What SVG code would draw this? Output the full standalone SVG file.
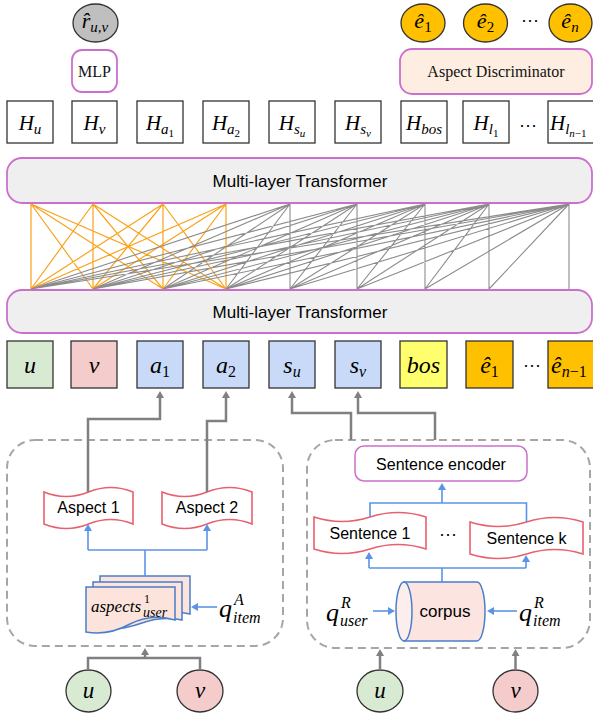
<svg xmlns="http://www.w3.org/2000/svg" width="593" height="715" viewBox="0 0 593 715">
<style>
  .box { fill: #ffffff; stroke: #333333; stroke-width: 1.3; }
  .pink { stroke: #CC6FCC; stroke-width: 1.8; }
  .m { font-family: "Liberation Serif", serif; font-style: italic; fill: #000; }
  .up { font-style: normal; }
  .serif { font-family: "Liberation Serif", serif; fill: #111; }
  .sans { font-family: "Liberation Sans", Arial, sans-serif; fill: #000; }
  .gray { fill: none; stroke: #808080; stroke-width: 2.5; }
  .blue { fill: none; stroke: #5B93E6; stroke-width: 1.6; }
  .tape { fill: #ffffff; stroke: #E8606E; stroke-width: 1.6; }
  .doc { fill: #FCE4DC; stroke: #4A7EC9; stroke-width: 1.5; }
  .dash { fill: none; stroke: #A6A6A6; stroke-width: 2; stroke-dasharray: 8 5; }
  .dots { font-family: "Liberation Sans", Arial, sans-serif; font-size: 18px; fill: #000; }
</style>
<defs>
  <marker id="ahGray" markerUnits="userSpaceOnUse" markerWidth="9" markerHeight="9" refX="1" refY="4" orient="auto">
    <path d="M0,0 L7,4 L0,8 z" fill="#808080"/>
  </marker>
  <marker id="ahBlue" markerUnits="userSpaceOnUse" markerWidth="9" markerHeight="9" refX="1" refY="4" orient="auto">
    <path d="M0,0 L7,4 L0,8 z" fill="#5B93E6"/>
  </marker>
</defs>

<!-- output heads -->
<g id="rating">
  <ellipse cx="95.5" cy="23" rx="22.5" ry="19" fill="#BFBFBF" stroke="#333" stroke-width="1.3"/>
  <text class="m" x="95" y="28" font-size="22" text-anchor="middle">r&#770;<tspan font-size="15" dy="4">u,v</tspan></text>
</g>
<g id="mlp">
  <rect x="72" y="50" width="45" height="42" rx="10" fill="#fff" class="pink"/>
  <text class="serif" x="94.5" y="77" font-size="16" text-anchor="middle">MLP</text>
</g>
<g id="e1-out">
  <ellipse cx="423" cy="23" rx="22" ry="19" fill="#FFC000" stroke="#333" stroke-width="1.3"/>
  <text class="m" x="423" y="28" font-size="22" text-anchor="middle">ê<tspan class="up" font-size="15" dy="4">1</tspan></text>
</g>
<g id="e2-out">
  <ellipse cx="485.5" cy="23" rx="22" ry="19" fill="#FFC000" stroke="#333" stroke-width="1.3"/>
  <text class="m" x="485.5" y="28" font-size="22" text-anchor="middle">ê<tspan class="up" font-size="15" dy="4">2</tspan></text>
</g>
<text class="dots" x="530" y="26" text-anchor="middle">···</text>
<g id="en-out">
  <ellipse cx="570.5" cy="23" rx="21.5" ry="19" fill="#FFC000" stroke="#333" stroke-width="1.3"/>
  <text class="m" x="570" y="28" font-size="22" text-anchor="middle">ê<tspan font-size="15" dy="4">n</tspan></text>
</g>
<g id="discriminator">
  <rect x="400" y="49" width="192" height="45" rx="12" fill="#FDEEE1" class="pink"/>
  <text class="serif" x="496" y="77" font-size="16" text-anchor="middle">Aspect Discriminator</text>
</g>

<!-- hidden states -->
<g id="hidden">
  <g id="H-u"><rect class="box" x="7" y="101" width="46" height="42"/>
    <text class="m" x="30" y="130" font-size="21" text-anchor="middle">H<tspan font-size="15" dy="4">u</tspan></text></g>
  <g id="H-v"><rect class="box" x="72" y="101" width="45" height="42"/>
    <text class="m" x="94.5" y="130" font-size="21" text-anchor="middle">H<tspan font-size="15" dy="4">v</tspan></text></g>
  <g id="H-a1"><rect class="box" x="137" y="101" width="46" height="42"/>
    <text class="m" x="160" y="130" font-size="21" text-anchor="middle">H<tspan font-size="15" dy="4">a</tspan><tspan class="up" font-size="11" dy="3">1</tspan></text></g>
  <g id="H-a2"><rect class="box" x="203" y="101" width="46" height="42"/>
    <text class="m" x="226" y="130" font-size="21" text-anchor="middle">H<tspan font-size="15" dy="4">a</tspan><tspan class="up" font-size="11" dy="3">2</tspan></text></g>
  <g id="H-su"><rect class="box" x="269" y="101" width="46" height="42"/>
    <text class="m" x="292" y="130" font-size="21" text-anchor="middle">H<tspan font-size="15" dy="4">s</tspan><tspan font-size="11" dy="3">u</tspan></text></g>
  <g id="H-sv"><rect class="box" x="335" y="101" width="46" height="42"/>
    <text class="m" x="358" y="130" font-size="21" text-anchor="middle">H<tspan font-size="15" dy="4">s</tspan><tspan font-size="11" dy="3">v</tspan></text></g>
  <g id="H-bos"><rect class="box" x="401" y="101" width="46" height="42"/>
    <text class="m" x="424" y="130" font-size="21" text-anchor="middle">H<tspan font-size="15" dy="4">bos</tspan></text></g>
  <g id="H-l1"><rect class="box" x="463" y="101" width="46" height="42"/>
    <text class="m" x="486" y="130" font-size="21" text-anchor="middle">H<tspan font-size="15" dy="4">l</tspan><tspan class="up" font-size="11" dy="3">1</tspan></text></g>
  <text class="dots" x="528" y="131" text-anchor="middle">···</text>
  <g id="H-ln"><rect class="box" x="548" y="101" width="47" height="42"/>
    <text class="m" x="550" y="130" font-size="21">H<tspan font-size="15" dy="4">l</tspan><tspan font-size="11" dy="3">n</tspan><tspan class="up" font-size="11">−1</tspan></text></g>
</g>

<!-- transformers -->
<g id="transformer-top">
  <rect x="7" y="158" width="585" height="45" rx="15" fill="#EFEFEF" class="pink"/>
  <text class="sans" x="300" y="187" font-size="17" text-anchor="middle">Multi-layer Transformer</text>
</g>
<g id="transformer-bottom">
  <rect x="7" y="290" width="585" height="43" rx="15" fill="#EFEFEF" class="pink"/>
  <text class="sans" x="300" y="318" font-size="17" text-anchor="middle">Multi-layer Transformer</text>
</g>

<!-- input tokens -->
<g id="tokens">
  <g id="tok-u"><rect x="7" y="341" width="46" height="47" fill="#D9EAD3" stroke="#333" stroke-width="1.3"/>
    <text class="m" x="30" y="373" font-size="24" text-anchor="middle">u</text></g>
  <g id="tok-v"><rect x="71" y="341" width="46" height="47" fill="#F4CCCC" stroke="#333" stroke-width="1.3"/>
    <text class="m" x="94" y="373" font-size="24" text-anchor="middle">v</text></g>
  <g id="tok-a1"><rect x="137" y="341" width="46" height="47" fill="#C9DAF8" stroke="#333" stroke-width="1.3"/>
    <text class="m" x="160" y="373" font-size="24" text-anchor="middle">a<tspan class="up" font-size="16" dy="4">1</tspan></text></g>
  <g id="tok-a2"><rect x="203" y="341" width="46" height="47" fill="#C9DAF8" stroke="#333" stroke-width="1.3"/>
    <text class="m" x="226" y="373" font-size="24" text-anchor="middle">a<tspan class="up" font-size="16" dy="4">2</tspan></text></g>
  <g id="tok-su"><rect x="269" y="341" width="46" height="47" fill="#C9DAF8" stroke="#333" stroke-width="1.3"/>
    <text class="m" x="292" y="373" font-size="24" text-anchor="middle">s<tspan font-size="16" dy="4">u</tspan></text></g>
  <g id="tok-sv"><rect x="335" y="341" width="46" height="47" fill="#C9DAF8" stroke="#333" stroke-width="1.3"/>
    <text class="m" x="358" y="373" font-size="24" text-anchor="middle">s<tspan font-size="16" dy="4">v</tspan></text></g>
  <g id="tok-bos"><rect x="400" y="341" width="47" height="47" fill="#FFFF6E" stroke="#333" stroke-width="1.3"/>
    <text class="m" x="423.5" y="373" font-size="24" text-anchor="middle">bos</text></g>
  <g id="tok-e1"><rect x="466" y="341" width="47" height="47" fill="#FFC000" stroke="#333" stroke-width="1.3"/>
    <text class="m" x="489.5" y="373" font-size="24" text-anchor="middle">ê<tspan class="up" font-size="16" dy="4">1</tspan></text></g>
  <text class="dots" x="532" y="371" text-anchor="middle">···</text>
  <g id="tok-en"><rect x="548" y="341" width="47" height="47" fill="#FFC000" stroke="#333" stroke-width="1.3"/>
    <text class="m" x="551" y="373" font-size="24">ê<tspan font-size="16" dy="4">n</tspan><tspan class="up" font-size="16">−1</tspan></text></g>
</g>

<!-- aspect branch -->
<g id="aspect-group">
  <rect class="dash" x="7" y="440" width="276" height="206" rx="28"/>
</g>
<g id="aspect1">
  <path class="tape" d="M44,492 Q66.25,501 88.5,492 Q110.75,483 133,492 V524 Q110.75,515 88.5,524 Q66.25,533 44,524 Z"/>
  <text class="sans" x="88.5" y="513" font-size="16" text-anchor="middle">Aspect 1</text>
</g>
<g id="aspect2">
  <path class="tape" d="M162,492 Q184.5,501 207,492 Q229.5,483 252,492 V524 Q229.5,515 207,524 Q184.5,533 162,524 Z"/>
  <text class="sans" x="207" y="513" font-size="16" text-anchor="middle">Aspect 2</text>
</g>
<g id="aspect-docs">
  <path class="doc" d="M100,576 H190 V614 Q170,610 150,617 Q125,626 100,622 Z"/>
  <path class="doc" d="M93,582 H182 V620 Q162,616 142,623 Q117,632 93,628 Z"/>
  <path class="doc" d="M86,587 H175 V620 Q152,613 130,624 Q108,636 86,632 Z"/>
  <text class="m" x="91" y="612" font-size="17">aspects</text>
  <text class="m up" x="144" y="603" font-size="12">1</text>
  <text class="m" x="143" y="617" font-size="14">user</text>
</g>
<g id="q-item-aspect">
  <text class="m" x="219" y="617" font-size="26">q</text>
  <text class="m" x="234" y="605" font-size="16">A</text>
  <text class="m" x="233" y="623" font-size="16">item</text>
</g>

<!-- review branch -->
<g id="review-group">
  <rect class="dash" x="307" y="440" width="283" height="208" rx="28"/>
</g>
<g id="sentence-encoder">
  <rect x="355" y="446" width="172" height="35" rx="9" fill="#fff" stroke="#CC6FCC" stroke-width="1.5"/>
  <text class="sans" x="441" y="469.5" font-size="16" text-anchor="middle">Sentence encoder</text>
</g>
<g id="sentence1">
  <path class="tape" d="M314,517 Q342,526 370,517 Q398,508 426,517 V549 Q398,540 370,549 Q342,558 314,549 Z"/>
  <text class="sans" x="370" y="539" font-size="16" text-anchor="middle">Sentence 1</text>
</g>
<text class="dots" x="448" y="540" text-anchor="middle">···</text>
<g id="sentencek">
  <path class="tape" d="M470,522 Q498.25,531 526.5,522 Q554.75,513 583,522 V554 Q554.75,545 526.5,554 Q498.25,563 470,554 Z"/>
  <text class="sans" x="526.5" y="544" font-size="16" text-anchor="middle">Sentence k</text>
</g>
<g id="corpus">
  <path d="M404,582 H477 A8,29.5 0 0 1 477,641 H404 Z" fill="#FCE4E0" stroke="#4A7EC9" stroke-width="1.5"/>
  <ellipse cx="404" cy="611.5" rx="8" ry="29.5" fill="#FCEEEC" stroke="#4A7EC9" stroke-width="1.5"/>
  <text class="sans" x="445" y="617" font-size="17" text-anchor="middle">corpus</text>
</g>
<g id="q-user-review">
  <text class="m" x="326" y="621" font-size="26">q</text>
  <text class="m" x="341" y="608" font-size="16">R</text>
  <text class="m" x="340" y="626" font-size="16">user</text>
</g>
<g id="q-item-review">
  <text class="m" x="519" y="621" font-size="26">q</text>
  <text class="m" x="534" y="608" font-size="16">R</text>
  <text class="m" x="533" y="626" font-size="16">item</text>
</g>

<!-- user / item inputs -->
<g id="in-u-left"><ellipse cx="88.5" cy="691" rx="22.5" ry="21" fill="#D9EAD3" stroke="#333" stroke-width="1.3"/>
  <text class="m" x="88.5" y="698" font-size="23" text-anchor="middle">u</text></g>
<g id="in-v-left"><ellipse cx="200" cy="691" rx="23" ry="21" fill="#F4CCCC" stroke="#333" stroke-width="1.3"/>
  <text class="m" x="200" y="698" font-size="23" text-anchor="middle">v</text></g>
<g id="in-u-right"><ellipse cx="380" cy="691" rx="23" ry="21" fill="#D9EAD3" stroke="#333" stroke-width="1.3"/>
  <text class="m" x="380" y="698" font-size="23" text-anchor="middle">u</text></g>
<g id="in-v-right"><ellipse cx="515.5" cy="691" rx="22.5" ry="21" fill="#F4CCCC" stroke="#333" stroke-width="1.3"/>
  <text class="m" x="515.5" y="698" font-size="23" text-anchor="middle">v</text></g>

<!-- connectors -->
<g id="connectors">
  <!-- attention links between the two transformer stacks -->
  <path fill="none" stroke="#F9A21B" stroke-width="1.2" d="
    M31,204 L31,289 M31,204 L93,289 M31,204 L163,289 M31,204 L226,289
    M93,204 L31,289 M93,204 L93,289 M93,204 L163,289 M93,204 L226,289
    M163,204 L31,289 M163,204 L93,289 M163,204 L163,289 M163,204 L226,289
    M226,204 L31,289 M226,204 L93,289 M226,204 L163,289 M226,204 L226,289"/>
  <path fill="none" stroke="#8C8C8C" stroke-width="1.1" d="
    M290,204 L31,289 M290,204 L93,289 M290,204 L163,289 M290,204 L226,289 M290,204 L290,289
    M357,204 L31,289 M357,204 L93,289 M357,204 L163,289 M357,204 L226,289 M357,204 L290,289 M357,204 L357,289
    M425,204 L31,289 M425,204 L93,289 M425,204 L163,289 M425,204 L226,289 M425,204 L290,289 M425,204 L357,289 M425,204 L425,289
    M489,204 L31,289 M489,204 L93,289 M489,204 L163,289 M489,204 L226,289 M489,204 L290,289 M489,204 L357,289 M489,204 L425,289 M489,204 L489,289
    M569,204 L31,289 M569,204 L93,289 M569,204 L163,289 M569,204 L226,289 M569,204 L290,289 M569,204 L357,289 M569,204 L425,289 M569,204 L489,289 M569,204 L569,289"/>

  <!-- branch outputs into tokens -->
  <path class="gray" d="M88,492 V419 H160 V397" marker-end="url(#ahGray)"/>
  <path class="gray" d="M207,492 V421 H226 V397" marker-end="url(#ahGray)"/>
  <path class="gray" d="M351,440 V413 H292 V397" marker-end="url(#ahGray)"/>
  <path class="gray" d="M435,440 V413 H358 V397" marker-end="url(#ahGray)"/>

  <!-- user/item into branches -->
  <path class="gray" d="M88,670 V658 H200 V670"/>
  <path class="gray" d="M145,658 V654" marker-end="url(#ahGray)"/>
  <path class="gray" d="M380,670 V655" marker-end="url(#ahGray)"/>
  <path class="gray" d="M515.5,670 V655" marker-end="url(#ahGray)"/>

  <!-- aspect branch flow -->
  <path class="blue" d="M145,576 V550"/>
  <path class="blue" d="M88,550 H207"/>
  <path class="blue" d="M88,550 V530" marker-end="url(#ahBlue)"/>
  <path class="blue" d="M207,550 V530" marker-end="url(#ahBlue)"/>
  <path class="blue" d="M217,607 H197" marker-end="url(#ahBlue)"/>

  <!-- review branch flow -->
  <path class="blue" d="M370,517 V503 H526.5 V522"/>
  <path class="blue" d="M442,503 V489" marker-end="url(#ahBlue)"/>
  <path class="blue" d="M442,582 V568"/>
  <path class="blue" d="M369,568 H526"/>
  <path class="blue" d="M369,568 V558" marker-end="url(#ahBlue)"/>
  <path class="blue" d="M526,568 V561" marker-end="url(#ahBlue)"/>
  <path class="blue" d="M373,611 H389" marker-end="url(#ahBlue)"/>
  <path class="blue" d="M517,611 H493" marker-end="url(#ahBlue)"/>
</g>
</svg>
